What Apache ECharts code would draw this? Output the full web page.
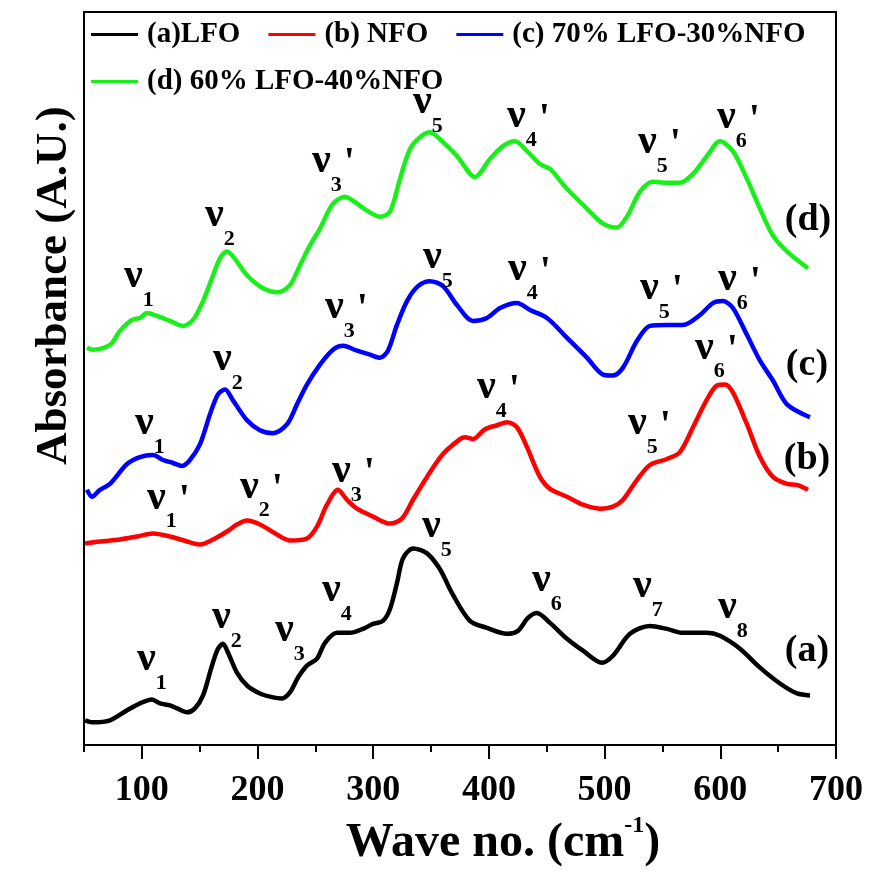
<!DOCTYPE html>
<html>
<head>
<meta charset="utf-8">
<title>Absorbance spectra</title>
<script src="https://cdn.jsdelivr.net/npm/echarts@6/dist/echarts.min.js"></script>
<style>
    html, body { margin: 0; padding: 0; background: #fff; }
    #chart { width: 871px; height: 873px; }
</style>
</head>
<body>
<div id="chart"></div>
<script>
const serif = "'Liberation Serif', 'Times New Roman', serif";

// [wave no. (cm-1), absorbance (a.u., curves offset)]
const curveLFO = [
    [50.9, 0.35], [57.8, 0.33], [72.5, 0.35], [87.2, 0.45], [98.4, 0.52], [108.8, 0.56],
    [115.7, 0.52], [124.3, 0.50], [130.4, 0.47], [139.0, 0.43], [145.9, 0.47], [152.9, 0.60],
    [160.6, 0.90], [165.8, 1.07], [170.1, 1.12], [174.5, 1.03], [182.2, 0.83], [190.9, 0.70],
    [202.1, 0.62], [213.4, 0.58], [221.1, 0.57], [228.0, 0.63], [235.0, 0.78], [242.7, 0.90],
    [251.4, 0.97], [258.3, 1.13], [268.7, 1.23], [279.9, 1.23], [291.1, 1.27], [299.8, 1.32],
    [308.4, 1.35], [314.5, 1.47], [320.5, 1.73], [325.7, 1.98], [334.4, 2.08], [346.5, 2.03],
    [357.7, 1.87], [368.1, 1.63], [383.6, 1.35], [398.3, 1.28], [415.6, 1.22], [425.1, 1.25],
    [433.7, 1.38], [441.5, 1.43], [452.8, 1.33], [467.5, 1.17], [481.3, 1.05], [497.7, 0.93],
    [507.2, 1.00], [521.9, 1.22], [539.2, 1.30], [553.9, 1.27], [567.7, 1.23], [588.5, 1.23],
    [599.7, 1.20], [617.0, 1.07], [634.3, 0.88], [651.6, 0.72], [666.3, 0.62], [677.5, 0.60]
];
const curveNFO = [
    [50.9, 2.13], [63.8, 2.15], [81.1, 2.17], [95.8, 2.20], [109.6, 2.23], [124.3, 2.20],
    [139.0, 2.15], [150.3, 2.12], [161.5, 2.17], [173.6, 2.25], [182.2, 2.32], [190.9, 2.36],
    [202.1, 2.32], [216.8, 2.22], [228.0, 2.16], [242.7, 2.18], [251.4, 2.30], [260.0, 2.52],
    [269.5, 2.67], [277.3, 2.57], [286.0, 2.48], [299.8, 2.40], [314.5, 2.33], [324.8, 2.38],
    [334.4, 2.57], [346.5, 2.80], [360.3, 3.03], [375.0, 3.18], [379.3, 3.20], [386.2, 3.18],
    [396.6, 3.28], [407.0, 3.32], [415.6, 3.35], [424.2, 3.30], [432.9, 3.10], [444.1, 2.80],
    [452.8, 2.68], [467.5, 2.60], [481.3, 2.52], [496.0, 2.48], [507.2, 2.50], [515.9, 2.57],
    [528.0, 2.77], [539.2, 2.92], [553.9, 2.98], [565.1, 3.05], [576.4, 3.30], [588.5, 3.58],
    [597.1, 3.72], [604.0, 3.73], [610.9, 3.65], [623.0, 3.33], [634.3, 3.00], [645.5, 2.80],
    [657.6, 2.73], [666.3, 2.72], [675.8, 2.67]
];
const curveMix70 = [
    [52.6, 2.67], [56.9, 2.60], [63.8, 2.67], [72.5, 2.73], [87.2, 2.93], [98.4, 3.00],
    [109.6, 3.02], [118.3, 2.97], [126.9, 2.94], [134.7, 2.91], [141.6, 2.97], [150.3, 3.13],
    [158.9, 3.43], [165.8, 3.63], [171.9, 3.68], [178.8, 3.57], [190.9, 3.37], [202.1, 3.27],
    [213.4, 3.24], [225.5, 3.33], [234.1, 3.53], [242.7, 3.73], [254.0, 3.93], [265.2, 4.08],
    [273.9, 4.12], [286.0, 4.07], [297.2, 4.03], [305.8, 4.00], [312.7, 4.07], [320.5, 4.33],
    [329.2, 4.57], [338.7, 4.72], [349.0, 4.77], [360.3, 4.72], [372.4, 4.53], [386.2, 4.37],
    [398.3, 4.40], [409.6, 4.50], [424.2, 4.55], [435.5, 4.48], [450.2, 4.40], [467.5, 4.20],
    [484.7, 4.00], [498.6, 3.83], [507.2, 3.82], [515.9, 3.90], [528.0, 4.17], [539.2, 4.32],
    [553.9, 4.33], [567.7, 4.33], [582.4, 4.43], [593.6, 4.55], [602.3, 4.57], [610.9, 4.50],
    [623.0, 4.23], [634.3, 3.97], [645.5, 3.77], [657.6, 3.53], [677.5, 3.40]
];
const curveMix60 = [
    [52.6, 4.10], [57.8, 4.08], [72.5, 4.13], [81.1, 4.27], [91.5, 4.38], [98.4, 4.40],
    [104.5, 4.45], [113.1, 4.42], [124.3, 4.37], [135.6, 4.32], [144.2, 4.38], [152.9, 4.57],
    [160.6, 4.80], [167.5, 5.00], [173.6, 5.07], [178.8, 5.02], [190.9, 4.83], [204.7, 4.70],
    [217.7, 4.66], [228.0, 4.73], [236.7, 4.93], [245.3, 5.13], [254.0, 5.30], [265.2, 5.55],
    [275.6, 5.62], [282.5, 5.58], [294.6, 5.48], [305.8, 5.42], [314.5, 5.47], [323.1, 5.80],
    [331.8, 6.10], [340.4, 6.22], [349.0, 6.27], [360.3, 6.17], [372.4, 6.03], [387.9, 5.82],
    [400.9, 6.00], [412.1, 6.13], [422.5, 6.18], [432.9, 6.08], [444.1, 5.95], [452.8, 5.90],
    [467.5, 5.70], [484.7, 5.50], [498.6, 5.35], [510.7, 5.31], [519.3, 5.42], [530.5, 5.67],
    [541.8, 5.77], [553.9, 5.76], [565.1, 5.76], [576.4, 5.85], [588.5, 6.03], [599.7, 6.18],
    [610.9, 6.08], [623.0, 5.80], [634.3, 5.50], [645.5, 5.23], [657.6, 5.07], [675.8, 4.90]
];

const seriesNames = ['(a)LFO', '(b) NFO', '(c) 70% LFO-30%NFO', '(d) 60% LFO-40%NFO'];
const seriesColors = ['#000000', '#ff0000', '#0000ff', '#19f019'];

// band labels: [wave no., absorbance, subscript, prime]
const bandLabels = [
    [104.5, 0.93, '1', ''], [169.3, 1.36, '2', ''], [223.7, 1.23, '3', ''], [264.3, 1.63, '4', ''],
    [350.8, 2.27, '5', ''], [445.8, 1.73, '6', ''], [533.1, 1.67, '7', ''], [606.6, 1.46, '8', ''],
    [113.1, 2.56, '1', "'"], [193.5, 2.67, '2', "'"], [273.0, 2.83, '3', "'"], [398.3, 3.67, '4', "'"],
    [528.8, 3.31, '5', "'"], [586.7, 4.07, '6', "'"],
    [102.7, 3.31, '1', ''], [170.1, 3.95, '2', ''], [266.9, 4.48, '3', "'"], [351.6, 4.98, '5', ''],
    [425.1, 4.86, '4', "'"], [539.2, 4.67, '5', "'"], [606.6, 4.76, '6', "'"],
    [93.2, 4.79, '1', ''], [163.2, 5.40, '2', ''], [255.7, 5.95, '3', "'"], [343.0, 6.54, '5', ''],
    [424.2, 6.40, '4', "'"], [537.5, 6.14, '5', "'"], [605.8, 6.39, '6', "'"]
];
// curve tags: [wave no., absorbance, text]
const curveTags = [
    [674.9, 1.05, '(a)'], [674.9, 2.98, '(b)'], [674.9, 3.92, '(c)'], [675.8, 5.38, '(d)']
];

const majorTicks = [100, 200, 300, 400, 500, 600, 700];
const minorTicks = [50, 150, 250, 350, 450, 550, 650];

let chart = echarts.init(document.getElementById('chart'));

function curveSeries(i, data) {
    return {
        name: seriesNames[i],
        type: 'line',
        data: data,
        smooth: 0.3,
        symbol: 'none',
        lineStyle: { width: 4.5, color: seriesColors[i] },
        itemStyle: { color: seriesColors[i] },
        z: 3
    };
}

// plain line keys, two rows like the original
function legendRow(top, names) {
    return {
        left: 91,
        top: top,
        padding: 0,
        data: names,
        icon: 'rect',
        itemWidth: 47,
        itemHeight: 3,
        itemGap: 28,
        textStyle: { fontFamily: serif, fontWeight: 'bold', fontSize: 29, color: '#000', padding: [0, 0, 0, 4] }
    };
}

let option = {
    backgroundColor: '#fff',
    animation: false,
    grid: {
        left: 84, right: 35, top: 12, bottom: 123,
        show: true, borderColor: '#000', borderWidth: 2
    },
    legend: [
        legendRow(20, seriesNames.slice(0, 3)),
        legendRow(67, seriesNames.slice(3))
    ],
    xAxis: [
        {
            type: 'value',
            min: 50,
            max: 700,
            name: '{t|Wave no. (cm}{sup|-1}{t|)}',
            nameLocation: 'middle',
            nameGap: 64,
            nameTextStyle: {
                padding: [0, 0, 0, 86],
                rich: {
                    t: { fontFamily: serif, fontWeight: 'bold', fontSize: 48, lineHeight: 60, color: '#000' },
                    sup: { fontFamily: serif, fontWeight: 'bold', fontSize: 24, lineHeight: 24, verticalAlign: 'top', color: '#000' }
                }
            },
            splitLine: { show: false },
            axisLine: { lineStyle: { color: '#000', width: 2 } },
            axisTick: { customValues: majorTicks, length: 14, lineStyle: { width: 2, color: '#000' } },
            axisLabel: {
                customValues: majorTicks,
                margin: 28,
                fontFamily: serif, fontWeight: 'bold', fontSize: 36, lineHeight: 36, color: '#000'
            }
        },
        {
            type: 'value',
            min: 50,
            max: 700,
            position: 'bottom',
            splitLine: { show: false },
            axisLine: { show: false },
            axisTick: { customValues: minorTicks, length: 7, lineStyle: { width: 2, color: '#000' } },
            axisLabel: { show: false }
        }
    ],
    yAxis: {
        type: 'value',
        min: 0.1,
        max: 7.48,
        name: 'Absorbance (A.U.)',
        nameLocation: 'middle',
        nameRotate: 90,
        nameGap: 7,
        nameTextStyle: {
            fontFamily: serif, fontWeight: 'bold', fontSize: 45, color: '#000',
            padding: [0, 0, 0, 186]
        },
        splitLine: { show: false },
        axisLine: { show: true, lineStyle: { color: '#000', width: 2 } },
        axisTick: { show: false },
        axisLabel: { show: false }
    },
    series: [
        curveSeries(0, curveLFO),
        curveSeries(1, curveNFO),
        curveSeries(2, curveMix70),
        curveSeries(3, curveMix60),
        {
            type: 'scatter',
            data: bandLabels,
            symbolSize: 0,
            silent: true,
            z: 5,
            itemStyle: { opacity: 1 },
            label: {
                show: true,
                position: [0, 0],
                offset: [-10, -24],
                color: '#000',
                formatter: p => '{nu|ν}{sub|' + p.value[2] + '}' + (p.value[3] ? '{pr|' + p.value[3] + '}' : ''),
                rich: {
                    nu: { fontFamily: serif, fontWeight: 'bold', fontSize: 42, lineHeight: 40, verticalAlign: 'top', color: '#000' },
                    sub: { fontFamily: serif, fontWeight: 'bold', fontSize: 22, lineHeight: 22, verticalAlign: 'top', padding: [34, 0, 0, 0], color: '#000' },
                    pr: { fontFamily: serif, fontWeight: 'bold', fontSize: 40, lineHeight: 40, verticalAlign: 'top', padding: [4, 0, 0, 2], color: '#000' }
                }
            }
        },
        {
            type: 'scatter',
            data: curveTags,
            symbolSize: 0,
            silent: true,
            z: 5,
            itemStyle: { opacity: 1 },
            label: {
                show: true,
                position: 'inside',
                formatter: p => p.value[2],
                fontFamily: serif, fontWeight: 'bold', fontSize: 38, color: '#000'
            }
        }
    ]
};

option && chart.setOption(option);
</script>
</body>
</html>
